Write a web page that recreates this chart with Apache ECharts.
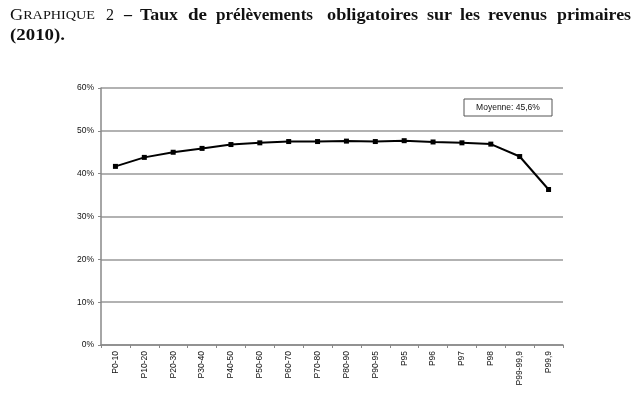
<!DOCTYPE html>
<html><head><meta charset="utf-8">
<script src="https://cdn.jsdelivr.net/npm/echarts@6/dist/echarts.min.js"></script>
<style>html,body{margin:0;padding:0;background:#fff}#c{width:640px;height:396px}</style>
</head><body><div id="c"></div>
<script>
const categories = ['P0-10','P10-20','P20-30','P30-40','P40-50','P50-60','P60-70','P70-80','P80-90','P90-95','P95','P96','P97','P98','P99-99,9','P99,9'];
const rates = [41.7, 43.8, 45.0, 45.9, 46.8, 47.2, 47.5, 47.5, 47.6, 47.5, 47.7, 47.4, 47.2, 46.9, 44.0, 36.3];
const yTicks = [0, 10, 20, 30, 40, 50, 60];
const noteText = 'Moyenne: 45,6%';
const titleWords = ['Taux', 'de', 'prélèvements', 'obligatoires', 'sur', 'les', 'revenus', 'primaires'];
const titleLine2 = '(2010).';

// layout (pixel) boxes for title words: [left, right]
const wordBox = [[140,178],[188,207],[216,313],[327,418],[427,452],[460,480],[488,547],[557,631]];

const serif = 'Liberation Serif';
const FS = 16;
const mctx = document.createElement('canvas').getContext('2d');
function w(text, font) { mctx.font = font; return mctx.measureText(text).width; }

const gfx = [];
// small caps "GRAPHIQUE"
const gW = w('G', FS + 'px "' + serif + '"') + w('RAPHIQUE', '12.5px "' + serif + '"');
gfx.push({type: 'text', x: 10, y: 24, scaleX: 85 / gW, style: {
  text: '{a|G}{b|RAPHIQUE}', verticalAlign: 'bottom',
  rich: {a: {fontFamily: serif, fontSize: FS, fill: '#111'}, b: {fontFamily: serif, fontSize: 12.5, fill: '#111'}}
}});
gfx.push({type: 'text', x: 106, y: 24, style: {text: '2', fontFamily: serif, fontSize: FS, fill: '#111', verticalAlign: 'bottom'}});
gfx.push({type: 'text', x: 124, y: 24, style: {text: '–', fontFamily: serif, fontWeight: 'bold', fontSize: FS, fill: '#111', verticalAlign: 'bottom'}});
titleWords.forEach((t, i) => {
  const mw = w(t, 'bold ' + FS + 'px "' + serif + '"');
  const tw = wordBox[i][1] - wordBox[i][0];
  gfx.push({type: 'text', x: wordBox[i][0], y: 24, scaleX: tw / mw, style: {
    text: t, fontFamily: serif, fontWeight: 'bold', fontSize: FS, fill: '#111', verticalAlign: 'bottom'}});
});
{
  const mw = w(titleLine2, 'bold ' + FS + 'px "' + serif + '"');
  gfx.push({type: 'text', x: 10, y: 44, scaleX: 55 / mw, style: {text: titleLine2, fontFamily: serif, fontWeight: 'bold', fontSize: FS, fill: '#111', verticalAlign: 'bottom'}});
}
gfx.push({type: 'rect', shape: {x: 464, y: 99, width: 88, height: 17}, style: {fill: '#fff', stroke: '#555', lineWidth: 1}});
gfx.push({type: 'text', x: 508, y: 108, style: {text: noteText, fontFamily: 'Liberation Sans', fontSize: 8.5, fill: '#111', align: 'center', verticalAlign: 'middle'}});

const chart = echarts.init(document.getElementById('c'), null, {renderer: 'canvas'});
chart.setOption({
  animation: false,
  backgroundColor: '#fff',
  graphic: gfx,
  grid: {left: 101, right: 77, top: 88, bottom: 51, containLabel: false},
  xAxis: {
    type: 'category', data: categories, boundaryGap: true,
    axisLine: {lineStyle: {color: '#888', width: 1.5}},
    axisTick: {show: true, length: 3, lineStyle: {color: '#888'}},
    axisLabel: {rotate: 90, fontSize: 8.5, fontFamily: 'Liberation Sans', color: '#111', margin: 6}
  },
  yAxis: {
    type: 'value', min: 0, max: 60, interval: 10,
    axisLine: {show: true, lineStyle: {color: '#888', width: 1.5}},
    axisTick: {show: true, length: 3, lineStyle: {color: '#888'}},
    axisLabel: {fontSize: 8.5, fontFamily: 'Liberation Sans', color: '#111', margin: 7,
      formatter: v => yTicks.includes(v) ? v + '%' : ''},
    splitLine: {lineStyle: {color: '#999', width: 1.5}}
  },
  series: [{
    type: 'line', data: rates,
    symbol: 'rect', symbolSize: 5,
    lineStyle: {color: '#000', width: 2},
    itemStyle: {color: '#000'}
  }]
});
</script></body></html>
